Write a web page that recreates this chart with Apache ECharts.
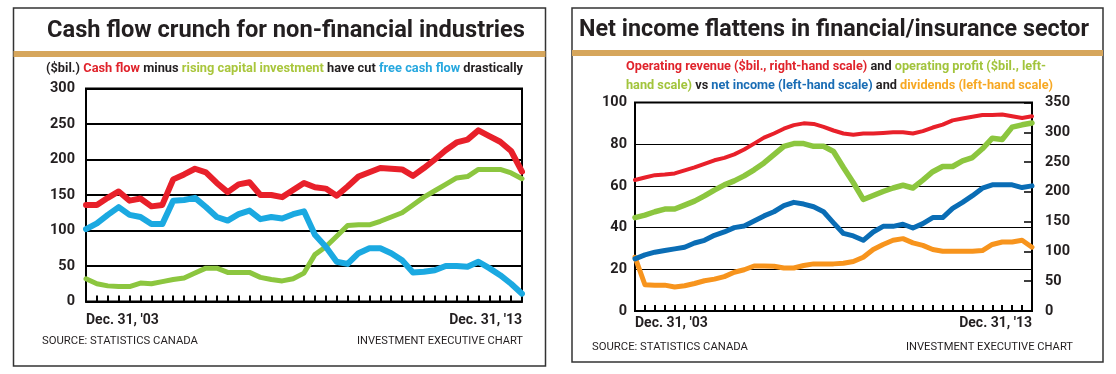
<!DOCTYPE html>
<html><head><meta charset="utf-8">
<script src="https://cdn.jsdelivr.net/npm/echarts@6/dist/echarts.min.js"></script>
<style>html,body{margin:0;padding:0;background:#fff}#c{width:1116px;height:374px}</style>
</head><body><div id="c"></div>
<script>
const quarters = ["Dec. 31, '03","Mar. 31, '04","Jun. 30, '04","Sep. 30, '04","Dec. 31, '04","Mar. 31, '05","Jun. 30, '05","Sep. 30, '05","Dec. 31, '05","Mar. 31, '06","Jun. 30, '06","Sep. 30, '06","Dec. 31, '06","Mar. 31, '07","Jun. 30, '07","Sep. 30, '07","Dec. 31, '07","Mar. 31, '08","Jun. 30, '08","Sep. 30, '08","Dec. 31, '08","Mar. 31, '09","Jun. 30, '09","Sep. 30, '09","Dec. 31, '09","Mar. 31, '10","Jun. 30, '10","Sep. 30, '10","Dec. 31, '10","Mar. 31, '11","Jun. 30, '11","Sep. 30, '11","Dec. 31, '11","Mar. 31, '12","Jun. 30, '12","Sep. 30, '12","Dec. 31, '12","Mar. 31, '13","Jun. 30, '13","Sep. 30, '13","Dec. 31, '13"];

// Left chart ($bil.)
const cashFlow = [136,136,146,155,142,145,134,136,172,179,187,182,167,154,165,168,150,150,147,157,167,161,159,149,162,176,182,188,187,186,177,188,200,213,224,228,241,233,225,212,183];
const freeCashFlow = [102,110,122,133,122,119,109,109,142,143,146,133,119,114,123,128,116,119,117,123,127,94,77,56,53,68,75,75,68,58,41,42,44,50,50,49,56,47,37,25,11];
const capitalInvestment = [32,25,22,21,21,26,25,28,31,33,40,47,47,41,41,41,34,31,29,32,40,66,77,92,107,108,108,113,119,125,136,147,156,165,174,176,186,186,186,181,173];

// Right chart
const operatingRevenue = [220,224,228,229,231,236,241,247,253,257,263,271,281,291,298,306,312,315,314,309,303,298,296,298,298,299,300,300,298,302,308,313,320,323,326,329,329,330,327,324,327];
const operatingProfit = [44.8,46,47.6,48.9,48.9,50.8,52.7,55.2,58,60.5,62.4,64.8,67.7,71,75,79,80.3,80.3,79,79,76.5,68.8,61.5,53.5,55.4,57.3,59,60.3,59,62.8,66.8,69.3,69.3,72,73.6,77.8,82.9,82.3,88.2,89.3,90.2];
const netIncome = [25,26.9,28.2,29,29.8,30.6,32.6,33.9,36.3,37.9,40,40.8,43.2,45.6,47.6,50.5,52.1,51.3,50,47.6,42.3,37.2,36,33.9,37.9,40.6,40.6,41.6,39.8,41.9,44.8,44.8,49.2,52.1,55.3,58.9,60.5,60.5,60.5,59.2,60];
const dividends = [25.8,12.6,12.4,12.4,11.5,12.1,13.2,14.5,15.3,16.5,18.6,19.8,21.6,21.6,21.5,20.6,20.6,21.8,22.6,22.6,22.6,22.9,23.7,25.8,29.5,31.9,33.9,34.7,32.7,31.5,29.5,28.7,28.7,28.7,28.7,29,31.9,33.1,33.1,33.9,30.6];

const leftTicks = [0,50,100,150,200,250,300];
const rightLeftTicks = [0,20,40,60,80,100];
const rightRightTicks = [0,50,100,150,200,250,300,350];

const FONT = "Roboto, 'Liberation Sans', sans-serif";
const INK = '#231f20';
const TAN = '#d6a65c';

// measure text to fit a target width (condensed look)
const mctx = document.createElement('canvas').getContext('2d');
function fit(text, font, target){ mctx.font = font; const w = mctx.measureText(text.replace(/\{[a-z]+\|/g,'').replace(/\}/g,'')).width; return target / w; }

function txt(x, y, text, font, target, align, extra){
  const st = Object.assign({x:0, y:0, text:text, font:font, fill:INK, align:align, verticalAlign:'middle', textAlign:align, textVerticalAlign:'middle'}, extra||{});
  return {type:'text', z:5, x:x, y:y, scaleX: fit(text, font, target), style:st};
}

const chart = echarts.init(document.getElementById('c'), null, {renderer:'canvas'});

function xAxisCfg(grid, margin){
  return {
    type:'category', gridIndex:grid, data:quarters, boundaryGap:false,
    axisLine:{show:true, lineStyle:{color:'#000', width:2}},
    axisTick:{show:true, inside:true, length:6, interval:0, lineStyle:{color:'#000', width:2}},
    axisLabel:{show:true, interval:(i)=> i===0 || i===quarters.length-1, margin:margin,
      color:INK, fontFamily:FONT, fontWeight:'bold', fontSize:14,
      alignMinLabel:'left', alignMaxLabel:'right'},
    splitLine:{show:false}
  };
}

const TF = "bold 24px " + FONT;
const SF = "bold 12.5px " + FONT;
const FF = "10.5px " + FONT;
const rich1 = {k:{fill:INK, font:SF}, r:{fill:'#e0232b', font:SF}, g:{fill:'#a9c63c', font:SF}, b:{fill:'#27a8df', font:SF}, o:{fill:'#f5a623', font:SF}};
const rich2 = {k:{fill:INK, font:SF}, r:{fill:'#e0232b', font:SF}, g:{fill:'#a2c43c', font:SF}, b:{fill:'#1a6db5', font:SF}, o:{fill:'#f7a823', font:SF}};

const option = {
  animation:false,
  backgroundColor:'#fff',
  grid:[
    {left:86, top:88.5, width:436, height:213, show:true, borderColor:'#000', borderWidth:2, containLabel:false},
    {left:635, top:102.5, width:397, height:208.5, show:true, borderColor:'#000', borderWidth:2, containLabel:false}
  ],
  xAxis:[ xAxisCfg(0, 12), xAxisCfg(1, 5) ],
  yAxis:[
    {type:'value', gridIndex:0, min:leftTicks[0], max:leftTicks[leftTicks.length-1], interval:50,
      axisLine:{show:false}, axisTick:{show:false},
      axisLabel:{color:INK, fontFamily:FONT, fontWeight:'bold', fontSize:14.5, margin:11},
      splitLine:{show:true, lineStyle:{color:'#000', width:2}}},
    {type:'value', gridIndex:1, min:rightLeftTicks[0], max:rightLeftTicks[rightLeftTicks.length-1], interval:20,
      axisLine:{show:false}, axisTick:{show:false},
      axisLabel:{color:INK, fontFamily:FONT, fontWeight:'bold', fontSize:14.5, margin:8},
      splitLine:{show:true, lineStyle:{color:'#000', width:1.2}}},
    {type:'value', gridIndex:1, position:'right', min:rightRightTicks[0], max:rightRightTicks[rightRightTicks.length-1], interval:50,
      axisLine:{show:false}, axisTick:{show:true, inside:true, length:8, lineStyle:{color:'#000', width:1.5}},
      axisLabel:{color:INK, fontFamily:FONT, fontWeight:'bold', fontSize:14.5, margin:13},
      splitLine:{show:false}}
  ],
  series:[
    {name:'Capital investment', type:'line', xAxisIndex:0, yAxisIndex:0, data:capitalInvestment, symbol:'none',
      lineStyle:{color:'#8cc63f', width:5, join:'round', cap:'round'}},
    {name:'Free cash flow', type:'line', xAxisIndex:0, yAxisIndex:0, data:freeCashFlow, symbol:'none',
      lineStyle:{color:'#1ba9e1', width:6, join:'round', cap:'round'}},
    {name:'Cash flow', type:'line', xAxisIndex:0, yAxisIndex:0, data:cashFlow, symbol:'none',
      lineStyle:{color:'#e8202a', width:6, join:'round', cap:'round'}},
    {name:'Dividends', type:'line', xAxisIndex:1, yAxisIndex:1, data:dividends, symbol:'none',
      lineStyle:{color:'#f7941d', width:5, join:'round', cap:'round'}},
    {name:'Net income', type:'line', xAxisIndex:1, yAxisIndex:1, data:netIncome, symbol:'none',
      lineStyle:{color:'#0a6db5', width:5, join:'round', cap:'round'}},
    {name:'Operating profit', type:'line', xAxisIndex:1, yAxisIndex:1, data:operatingProfit, symbol:'none',
      lineStyle:{color:'#8cc63f', width:5.5, join:'round', cap:'round'}},
    {name:'Operating revenue', type:'line', xAxisIndex:1, yAxisIndex:2, data:operatingRevenue, symbol:'none',
      lineStyle:{color:'#e8202a', width:4, join:'round', cap:'round'}}
  ],
  graphic:[
    {type:'rect', shape:{x:13.5, y:8, width:532, height:358}, style:{fill:'none', stroke:'#333', lineWidth:1.5}, z:1},
    {type:'rect', shape:{x:572, y:8, width:531, height:354}, style:{fill:'none', stroke:'#333', lineWidth:1.5}, z:1},
    {type:'rect', shape:{x:13.5, y:51, width:532, height:6}, style:{fill:TAN}, z:1},
    {type:'rect', shape:{x:572, y:50, width:531, height:6}, style:{fill:TAN}, z:1},
    txt(286, 30.5, 'Cash flow crunch for non-financial industries', TF, 478, 'center'),
    txt(834, 30, 'Net income flattens in financial/insurance sector', TF, 510, 'center'),
    txt(284.5, 68.5, '{k|($bil.)} {r|Cash flow} {k|minus} {g|rising capital investment} {k|have cut} {b|free cash flow} {k|drastically}', SF, 477, 'center', {rich:rich1}),
    txt(626, 67, '{r|Operating revenue ($bil., right-hand scale)} {k|and} {g|operating profit ($bil., left-}', SF, 420, 'left', {rich:rich2}),
    txt(626, 86, '{g|hand scale)} {k|vs} {b|net income (left-hand scale)} {k|and} {o|dividends (left-hand scale)}', SF, 427, 'left', {rich:rich2}),
    txt(42, 341.5, 'SOURCE: STATISTICS CANADA', FF, 156, 'left'),
    txt(523, 341.5, 'INVESTMENT EXECUTIVE CHART', FF, 166, 'right'),
    txt(592, 347.5, 'SOURCE: STATISTICS CANADA', FF, 156, 'left'),
    txt(1073, 347.5, 'INVESTMENT EXECUTIVE CHART', FF, 167, 'right')
  ]
};
chart.setOption(option);
</script></body></html>
